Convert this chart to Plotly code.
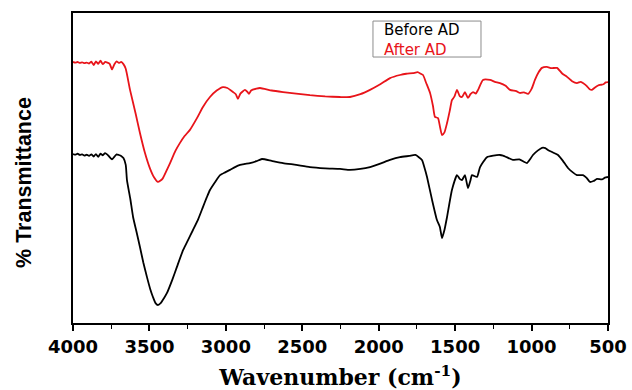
import plotly.graph_objects as go

# Before AD (black)
wn_before = [4000, 3985, 3970, 3955, 3940, 3925, 3910, 3895, 3880, 3865, 3850, 3835, 3820, 3805,
             3790, 3775, 3760, 3745, 3730, 3715, 3700, 3685, 3670,
             3655, 3647, 3625, 3607, 3585, 3562, 3540, 3516, 3495, 3477, 3460, 3444, 3425, 3405,
             3385, 3350, 3320, 3280, 3250, 3215, 3180, 3150, 3125, 3104, 3070, 3038, 3005, 2973,
             2940, 2907, 2875, 2842, 2800, 2764, 2700, 2626, 2540, 2450, 2350, 2253, 2188, 2120,
             2057, 1990, 1926, 1861, 1800, 1760, 1717, 1700, 1684, 1651, 1619, 1600, 1586, 1570,
             1553, 1521, 1488, 1470, 1455, 1436, 1416, 1400, 1390, 1357, 1337, 1292, 1250, 1207,
             1187, 1150, 1122, 1080, 1050, 1030, 1010, 991, 960, 932, 910, 893, 860, 827, 795, 762,
             730, 703, 664, 640, 618, 595, 572, 540, 520, 500]
t_before = [54.5, 54.3, 54.6, 54.2, 54.4, 54.0, 54.3, 53.9, 54.4, 53.7, 54.5, 53.6, 54.6, 54.1,
            54.8, 54.3, 53.5, 52.8, 53.6, 54.4, 54.2, 53.9, 53.2,
            51.0, 46.1, 40.0, 34.2, 29.5, 24.5, 19.5, 14.8, 11.0, 8.4, 6.4, 5.8, 6.5, 8.0,
            9.7, 14.0, 18.1, 23.5, 26.5, 30.0, 33.6, 37.4, 40.5, 42.9, 45.5, 47.7, 48.6, 49.4,
            50.3, 51.0, 51.3, 51.6, 52.2, 52.9, 52.3, 51.6, 51.0, 50.3, 49.9, 49.7, 49.4, 49.7,
            50.3, 51.4, 52.6, 53.5, 53.9, 54.2, 52.6, 50.0, 47.1, 39.7, 33.2, 31.0, 27.4, 30.0,
            34.2, 42.9, 47.7, 46.5, 46.1, 47.7, 43.5, 46.0, 47.7, 47.1, 50.3, 53.5, 54.0, 54.2,
            54.0, 53.2, 52.6, 52.8, 52.0, 51.6, 52.8, 54.2, 55.6, 56.5, 56.4, 55.8, 55.0, 54.2, 52.3, 50.0,
            48.6, 47.7, 47.7, 46.8, 45.5, 45.8, 46.5, 46.3, 46.9, 47.1]

# After AD (red)
wn_after = [4000, 3985, 3970, 3955, 3940, 3925, 3910, 3895, 3880, 3865, 3850, 3835, 3820, 3805,
            3790, 3775, 3760, 3745, 3730, 3715, 3700, 3685, 3670,
            3655, 3627, 3590, 3562, 3530, 3496, 3470, 3444, 3415, 3385, 3365, 3330, 3300, 3270,
            3235, 3190, 3150, 3104, 3060, 3019, 2990, 2953, 2935, 2921, 2905, 2875, 2860, 2849,
            2835, 2800, 2777, 2700, 2626, 2540, 2450, 2350, 2253, 2188, 2120, 2057, 1990, 1926,
            1861, 1820, 1776, 1745, 1725, 1710, 1690, 1664, 1645, 1632, 1612, 1600, 1586, 1570,
            1553, 1535, 1521, 1505, 1488, 1470, 1455, 1436, 1416, 1400, 1383, 1365, 1350, 1318,
            1272, 1240, 1207, 1170, 1141, 1100, 1076, 1050, 1023, 1000, 978, 955, 932, 900, 870,
            834, 800, 768, 735, 703, 680, 664, 640, 620, 605, 585, 565, 552, 530, 515, 500]
t_after = [84.2, 84.0, 84.2, 83.9, 84.1, 83.8, 84.0, 83.7, 84.3, 83.2, 84.4, 83.6, 84.6, 83.5,
           84.2, 84.0, 83.6, 81.8, 83.4, 84.4, 83.9, 84.2, 83.5,
           82.0, 75.2, 67.5, 61.3, 55.0, 49.8, 47.0, 45.5, 46.5, 49.5, 51.6, 55.5, 58.1, 60.3,
           62.3, 66.0, 69.7, 72.9, 75.0, 76.1, 75.8, 74.5, 73.8, 72.3, 74.0, 75.2, 74.6, 73.9,
           75.0, 75.6, 75.8, 75.0, 74.5, 74.0, 73.5, 73.1, 72.9, 72.9, 73.8, 75.2, 77.0, 79.0,
           80.0, 80.4, 80.6, 80.9, 80.4, 80.0, 77.5, 74.2, 70.0, 66.5, 66.1, 63.5, 60.6, 61.5,
           64.5, 68.5, 71.9, 73.0, 75.2, 73.2, 72.9, 74.5, 72.6, 73.8, 74.5, 74.0, 75.2, 78.4,
           78.4, 77.8, 77.4, 76.5, 75.2, 74.8, 74.2, 74.4, 73.9, 75.5, 78.4, 80.8, 82.3, 82.6, 82.2,
           82.3, 80.5, 79.4, 78.0, 77.4, 77.8, 77.4, 76.5, 75.4, 75.2, 76.0, 76.6, 76.8, 77.0, 77.6, 77.7]

x_ticks = [4000, 3500, 3000, 2500, 2000, 1500, 1000, 500]
series_names = ["Before AD", "After AD"]
series_colors = ["black", "#e8141a"]

fig = go.Figure()
fig.add_trace(go.Scatter(x=wn_before, y=t_before, mode="lines", name=series_names[0],
                         line=dict(color=series_colors[0], width=1.8, shape="spline", smoothing=0.5),
                         showlegend=False))
fig.add_trace(go.Scatter(x=wn_after, y=t_after, mode="lines", name=series_names[1],
                         line=dict(color=series_colors[1], width=1.8, shape="spline", smoothing=0.5),
                         showlegend=False))

# legend box with the two series names
fig.add_shape(type="rect", xref="paper", yref="paper", x0=0.5607, x1=0.7626, y0=0.858, y1=0.974,
              line=dict(color="#8c8c8c", width=1), fillcolor="white", layer="above")
legend_text = "<br>".join(f"<span style='color:{c}'>{n}</span>" for n, c in zip(series_names, series_colors))
fig.add_annotation(xref="paper", yref="paper", x=0.5776, y=0.914, xanchor="left", yanchor="middle",
                   text=legend_text, showarrow=False, align="left",
                   font=dict(family="DejaVu Sans", size=15, color="black"))

# y-axis title
fig.add_annotation(xref="paper", yref="paper", x=-0.0916, y=0.455, xanchor="center", yanchor="middle",
                   text="% Transmittance", textangle=-90, showarrow=False,
                   font=dict(family="Liberation Sans, Arial", size=21.5, color="black", weight="bold"))

fig.update_layout(
    width=632, height=390,
    margin=dict(l=73, r=24, t=13, b=67, autoexpand=False),
    paper_bgcolor="white", plot_bgcolor="white",
    xaxis=dict(
        range=[4000, 500], tickvals=x_ticks, ticktext=[str(v) for v in x_ticks],
        automargin=False,
        ticks="outside", ticklen=6, tickwidth=1.5, tickcolor="black",
        minor=dict(dtick=250, tick0=500, ticks="outside", ticklen=4, tickwidth=1.2, tickcolor="black"),
        showline=True, linecolor="black", linewidth=1.8, mirror=True,
        showgrid=False, zeroline=False,
        tickfont=dict(family="DejaVu Sans", size=18, color="black", weight="bold"),
        title=dict(text="Wavenumber (cm<sup>-1</sup>)", standoff=20,
                   font=dict(family="DejaVu Serif", size=22, color="black", weight="bold")),
    ),
    yaxis=dict(
        range=[0, 100], showticklabels=False, ticks="", automargin=False,
        showline=True, linecolor="black", linewidth=1.8, mirror=True,
        showgrid=False, zeroline=False,
    ),
)

fig.write_html("out.html")
